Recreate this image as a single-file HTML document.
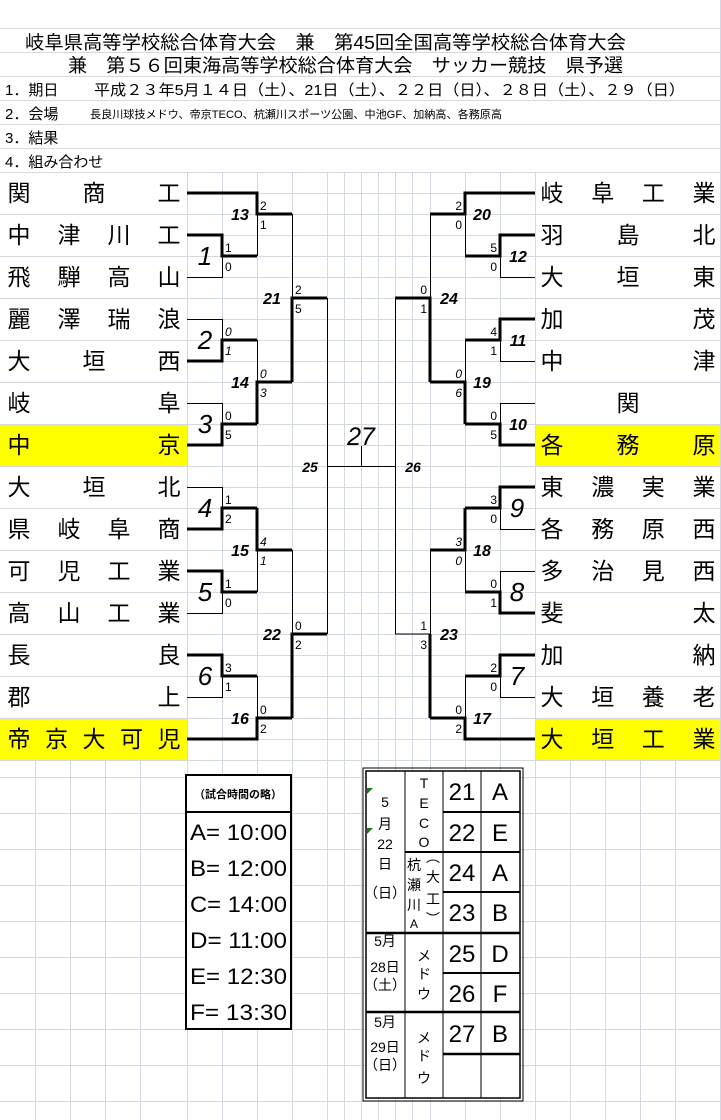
<!DOCTYPE html>
<html><head><meta charset="utf-8"><style>
html,body{margin:0;padding:0;background:#fff;}
svg{display:block;font-family:"Liberation Sans","Noto Sans CJK JP",sans-serif;}
.tn{font-size:23px;text-anchor:middle;fill:#000;}
.sc{font-size:12px;fill:#000;}
.si{font-size:12px;fill:#000;font-style:italic;}
.ml{font-size:16px;font-weight:bold;font-style:italic;text-anchor:middle;}
.mb{font-size:26px;font-style:italic;text-anchor:middle;}
</style></head><body>
<svg width="721" height="1120" viewBox="0 0 721 1120" xmlns="http://www.w3.org/2000/svg">
<rect x="0" y="0" width="721" height="1120" fill="#fff"/>
<rect x="0" y="425" width="187" height="41" fill="#ffff00"/>
<rect x="0" y="719" width="187" height="41" fill="#ffff00"/>
<rect x="535" y="425" width="186" height="41" fill="#ffff00"/>
<rect x="535" y="719" width="186" height="41" fill="#ffff00"/>
<g stroke="#d4d8e0" stroke-width="1">
<path d="M0,28.5H721M0,52.5H721M0,76.5H721M0,100.5H721M0,124.5H721M0,148.5H721M0,172.5H721M720.5,0V1120"/>
<path d="M0,214.5H187M0,256.5H187M0,298.5H187M0,340.5H187M0,382.5H187M0,424.5H187M0,466.5H187M0,508.5H187M0,550.5H187M0,592.5H187M0,634.5H187M0,676.5H187M0,718.5H187M0,760.5H721"/>
<path d="M535,214.5H721M535,256.5H721M535,298.5H721M535,340.5H721M535,382.5H721M535,424.5H721M535,466.5H721M535,508.5H721M535,550.5H721M535,592.5H721M535,634.5H721M535,676.5H721M535,718.5H721"/>
<path d="M187,193.5H535M187,214.5H535M187,235.5H535M187,256.5H535M187,277.5H535M187,298.5H535M187,319.5H535M187,340.5H535M187,361.5H535M187,382.5H535M187,403.5H535M187,424.5H535M187,445.5H535M187,466.5H535M187,487.5H535M187,508.5H535M187,529.5H535M187,550.5H535M187,571.5H535M187,592.5H535M187,613.5H535M187,634.5H535M187,655.5H535M187,676.5H535M187,697.5H535M187,718.5H535M187,739.5H535"/>
<path d="M187.5,172V1120M222.5,172V1120M257.5,172V1120M292.5,172V1120M327.5,172V1120M344.5,172V1120M361.5,172V1120M378.5,172V1120M395.5,172V1120M412.5,172V1120M430.5,172V1120M465.5,172V1120M500.5,172V1120M535.5,172V1120"/>
<path d="M0,777.5H721M0,813.5H721M0,849.5H721M0,885.5H721M0,921.5H721M0,957.5H721M0,993.5H721M0,1029.5H721M0,1065.5H721M0,1101.5H721"/>
<path d="M35.5,760V1120M70.5,760V1120M105.5,760V1120M140.5,760V1120M570.5,760V1120M605.5,760V1120M640.5,760V1120M675.5,760V1120"/>
</g>
<text x="25" y="49" font-size="18.5" textLength="601" lengthAdjust="spacingAndGlyphs">岐阜県高等学校総合体育大会　兼　第45回全国高等学校総合体育大会</text>
<text x="68" y="72" font-size="18.5" textLength="555" lengthAdjust="spacingAndGlyphs">兼　第５６回東海高等学校総合体育大会　サッカー競技　県予選</text>
<text x="5" y="95" font-size="15">1．期日</text>
<text x="94" y="95" font-size="15" textLength="591" lengthAdjust="spacingAndGlyphs">平成２３年5月１４日（土）、21日（土）、２２日（日）、２８日（土）、２９（日）</text>
<text x="5" y="119" font-size="15">2．会場</text>
<text x="90" y="118" font-size="11" textLength="412" lengthAdjust="spacingAndGlyphs">長良川球技メドウ、帝京TECO、杭瀬川スポーツ公園、中池GF、加納高、各務原高</text>
<text x="5" y="143" font-size="15">3．結果</text>
<text x="5" y="167" font-size="15">4．組み合わせ</text>
<g class="tn">
<text x="19" y="201">関</text><text x="94" y="201">商</text><text x="169" y="201">工</text>
<text x="19" y="243">中</text><text x="69" y="243">津</text><text x="119" y="243">川</text><text x="169" y="243">工</text>
<text x="19" y="285">飛</text><text x="69" y="285">騨</text><text x="119" y="285">高</text><text x="169" y="285">山</text>
<text x="19" y="327">麗</text><text x="69" y="327">澤</text><text x="119" y="327">瑞</text><text x="169" y="327">浪</text>
<text x="19" y="369">大</text><text x="94" y="369">垣</text><text x="169" y="369">西</text>
<text x="19" y="411">岐</text><text x="169" y="411">阜</text>
<text x="19" y="453">中</text><text x="169" y="453">京</text>
<text x="19" y="495">大</text><text x="94" y="495">垣</text><text x="169" y="495">北</text>
<text x="19" y="537">県</text><text x="69" y="537">岐</text><text x="119" y="537">阜</text><text x="169" y="537">商</text>
<text x="19" y="579">可</text><text x="69" y="579">児</text><text x="119" y="579">工</text><text x="169" y="579">業</text>
<text x="19" y="621">高</text><text x="69" y="621">山</text><text x="119" y="621">工</text><text x="169" y="621">業</text>
<text x="19" y="663">長</text><text x="169" y="663">良</text>
<text x="19" y="705">郡</text><text x="169" y="705">上</text>
<text x="19" y="747">帝</text><text x="56.5" y="747">京</text><text x="94" y="747">大</text><text x="131.5" y="747">可</text><text x="169" y="747">児</text>
</g>
<g class="tn">
<text x="552" y="201">岐</text><text x="602.7" y="201">阜</text><text x="653.3" y="201">工</text><text x="704" y="201">業</text>
<text x="552" y="243">羽</text><text x="628" y="243">島</text><text x="704" y="243">北</text>
<text x="552" y="285">大</text><text x="628" y="285">垣</text><text x="704" y="285">東</text>
<text x="552" y="327">加</text><text x="704" y="327">茂</text>
<text x="552" y="369">中</text><text x="704" y="369">津</text>
<text x="628" y="411">関</text>
<text x="552" y="453">各</text><text x="628" y="453">務</text><text x="704" y="453">原</text>
<text x="552" y="495">東</text><text x="602.7" y="495">濃</text><text x="653.3" y="495">実</text><text x="704" y="495">業</text>
<text x="552" y="537">各</text><text x="602.7" y="537">務</text><text x="653.3" y="537">原</text><text x="704" y="537">西</text>
<text x="552" y="579">多</text><text x="602.7" y="579">治</text><text x="653.3" y="579">見</text><text x="704" y="579">西</text>
<text x="552" y="621">斐</text><text x="704" y="621">太</text>
<text x="552" y="663">加</text><text x="704" y="663">納</text>
<text x="552" y="705">大</text><text x="602.7" y="705">垣</text><text x="653.3" y="705">養</text><text x="704" y="705">老</text>
<text x="552" y="747">大</text><text x="602.7" y="747">垣</text><text x="653.3" y="747">工</text><text x="704" y="747">業</text>
</g>
<g fill="none" stroke="#000" stroke-width="1">
<path d="M187,277.5H222.5V256M257.5,214V256M187,319.5H222.5V340M187,403.5H222.5V424M257.5,340V382M292.5,214V298M187,487.5H222.5V508M187,613.5H222.5V592M257.5,550V592M187,697.5H222.5V676M257.5,676V718M292.5,550V634M327.5,298V634M327,466.5H395M361.5,466V446M395.5,298V634"/>
<path d="M535,277.5H500.5V256M465.5,214V256M535,361.5H500.5V340M535,403.5H500.5V424M465.5,340V382M430.5,214V298M535,529.5H500.5V508M535,571.5H500.5V592M465.5,550V592M535,697.5H500.5V676M465.5,676V718M430.5,550V634H395"/>
</g>
<g fill="none" stroke="#000" stroke-width="3" stroke-linejoin="miter">
<path d="M187,193H257V214H292M187,235H222V256H257M187,361H222V340H257M187,445H222V424H257M257,424V382H292M292,382V298H327M187,529H222V508H257M257,508V550H292M187,571H222V592H257M187,655H222V676H257M187,739H257V718H292M292,718V634H327"/>
<path d="M535,193H465V214H430M535,235H500V256H465M430,382V298H395M535,319H500V340H465M535,445H500V424H465M465,424V382H430M535,487H500V508H465M465,508V550H430M535,613H500V592H465M535,655H500V676H465M535,739H465V718H430M430,718V634"/>
</g>
<g class="sc">
<text x="225" y="252">1</text><text x="225" y="271">0</text>
<text x="260" y="210">2</text><text x="260" y="229">1</text>
<text x="295" y="294">2</text><text x="295" y="313">5</text>
<text x="225" y="420">0</text><text x="225" y="439">5</text>
<text x="225" y="504">1</text><text x="225" y="523">2</text>
<text x="225" y="588">1</text><text x="225" y="607">0</text>
<text x="225" y="672">3</text><text x="225" y="691">1</text>
<text x="260" y="714">0</text><text x="260" y="733">2</text>
<text x="295" y="630">0</text><text x="295" y="649">2</text>
</g>
<g class="si">
<text x="225" y="336">0</text><text x="225" y="355">1</text>
<text x="260" y="378">0</text><text x="260" y="397">3</text>
<text x="260" y="546">4</text><text x="260" y="565">1</text>
</g>
<g class="sc" text-anchor="end">
<text x="462" y="210">2</text><text x="462" y="229">0</text>
<text x="497" y="252">5</text><text x="497" y="271">0</text>
<text x="427" y="294">0</text><text x="427" y="313">1</text>
<text x="497" y="336">4</text><text x="497" y="355">1</text>
<text x="497" y="420">0</text><text x="497" y="439">5</text>
<text x="497" y="504">3</text><text x="497" y="523">0</text>
<text x="497" y="588">0</text><text x="497" y="607">1</text>
<text x="497" y="672">2</text><text x="497" y="691">0</text>
<text x="462" y="714">0</text><text x="462" y="733">2</text>
<text x="427" y="630">1</text><text x="427" y="649">3</text>
</g>
<g class="si" text-anchor="end">
<text x="462" y="378">0</text><text x="462" y="397">6</text>
<text x="462" y="546">3</text><text x="462" y="565">0</text>
</g>
<g class="mb">
<text x="205" y="265">1</text><text x="205" y="349">2</text><text x="205" y="433">3</text>
<text x="205" y="517">4</text><text x="205" y="601">5</text><text x="205" y="685">6</text>
<text x="517" y="517">9</text><text x="517" y="601">8</text><text x="517" y="685">7</text>
<text x="361" y="445" font-size="25">27</text>
</g>
<g class="ml">
<text x="240" y="220">13</text><text x="240" y="388">14</text><text x="240" y="556">15</text><text x="240" y="724">16</text>
<text x="272" y="304">21</text><text x="272" y="640">22</text>
<text x="310" y="472" font-size="14">25</text><text x="413" y="472" font-size="14">26</text>
<text x="482" y="220">20</text><text x="482" y="388">19</text><text x="482" y="556">18</text><text x="482" y="724">17</text>
<text x="449" y="304">24</text><text x="449" y="640">23</text>
<text x="518" y="262">12</text><text x="518" y="346">11</text><text x="518" y="430">10</text>
</g>
<rect x="186" y="775" width="105" height="254" fill="#fff" stroke="#000" stroke-width="2"/>
<line x1="186" y1="812" x2="291" y2="812" stroke="#000" stroke-width="2"/>
<text x="238" y="798" font-size="11" font-weight="bold" text-anchor="middle">（試合時間の略）</text>
<g font-size="22" fill="#000">
<text x="190" y="840" textLength="97" lengthAdjust="spacingAndGlyphs">A= 10:00</text>
<text x="190" y="876" textLength="97" lengthAdjust="spacingAndGlyphs">B= 12:00</text>
<text x="190" y="912" textLength="97" lengthAdjust="spacingAndGlyphs">C= 14:00</text>
<text x="190" y="948" textLength="97" lengthAdjust="spacingAndGlyphs">D= 11:00</text>
<text x="190" y="984" textLength="97" lengthAdjust="spacingAndGlyphs">E= 12:30</text>
<text x="190" y="1020" textLength="97" lengthAdjust="spacingAndGlyphs">F= 13:30</text>
</g>
<rect x="366" y="771" width="154" height="327" fill="#fff" stroke="#000" stroke-width="1.5"/>
<rect x="363" y="768" width="160" height="333" fill="none" stroke="#000" stroke-width="1"/>
<g stroke="#000" fill="none">
<path d="M405,771V1098M443,771V1098M481,771V1098" stroke-width="1"/>
<path d="M443,812H520M443,852H520M405,852H443M443,892H520M443,973H520" stroke-width="2"/>
<path d="M366,933H520M366,1012H520M443,1054H520" stroke-width="2.5"/>
</g>
<path d="M367,788l6,0l-6,6z" fill="#1a7a1a"/>
<path d="M367,828l6,0l-6,6z" fill="#1a7a1a"/>
<g font-size="14" text-anchor="middle">
<text x="385" y="807">5</text><text x="385" y="829">月</text><text x="385" y="849">22</text><text x="385" y="869">日</text><text x="385" y="898">（日）</text>
<text x="424" y="788">T</text><text x="424" y="808">E</text><text x="424" y="828">C</text><text x="424" y="847">O</text>
<text x="414" y="870">杭</text><text x="414" y="890">瀬</text><text x="414" y="910">川</text><text x="414" y="928" font-size="12">A</text>
<text x="433" y="862">︵</text><text x="433" y="882">大</text><text x="433" y="904">工</text><text x="433" y="924">︶</text>
<text x="385" y="946">5月</text><text x="385" y="972">28日</text><text x="385" y="990">（土）</text>
<text x="424" y="961">メ</text><text x="424" y="979">ド</text><text x="424" y="999">ウ</text>
<text x="385" y="1027">5月</text><text x="385" y="1052">29日</text><text x="385" y="1070">（日）</text>
<text x="424" y="1043">メ</text><text x="424" y="1061">ド</text><text x="424" y="1083">ウ</text>
</g>
<g font-size="24" text-anchor="middle">
<text x="462" y="800">21</text><text x="500" y="800">A</text>
<text x="462" y="841">22</text><text x="500" y="841">E</text>
<text x="462" y="881">24</text><text x="500" y="881">A</text>
<text x="462" y="921">23</text><text x="500" y="921">B</text>
<text x="462" y="962">25</text><text x="500" y="962">D</text>
<text x="462" y="1002">26</text><text x="500" y="1002">F</text>
<text x="462" y="1042">27</text><text x="500" y="1042">B</text>
</g>
</svg>
</body></html>
